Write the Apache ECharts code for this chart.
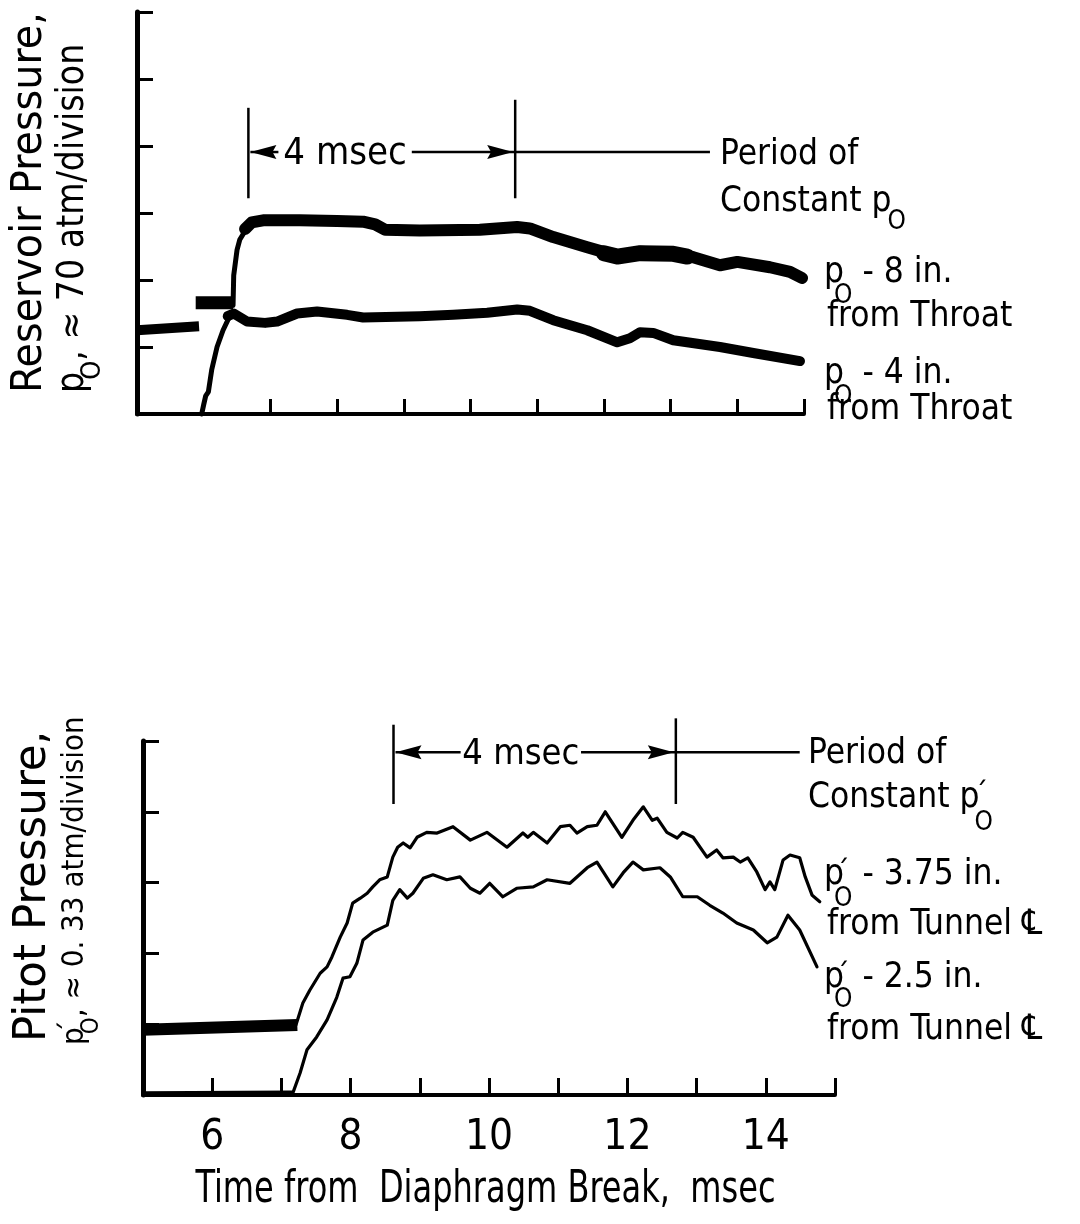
<!DOCTYPE html>
<html><head><meta charset="utf-8">
<script src="https://cdn.jsdelivr.net/npm/echarts@6/dist/echarts.min.js"></script>
<style>html,body{margin:0;padding:0;background:#fff}#c{width:1080px;height:1224px}</style>
</head><body><div id="c"></div>
<script>
const FONT = '"DejaVu Sans Condensed","DejaVu Sans",sans-serif';

// ---- axes ----
const timeMin = 5, timeMax = 15;
const topDivisions = 6, bottomDivisions = 5;
const topTickValues = [7, 8, 9, 10, 11, 12, 13, 14, 15];
const bottomTickLabels = [6, 8, 10, 12, 14];
const xTitle = 'Time from  Diaphragm Break,  msec';

// ---- top chart: reservoir pressure (divisions) vs time (msec) ----
const res8inPre1 = [[5.0, 1.25], [5.93, 1.31]];
const res8inPre2 = [[5.88, 1.66], [6.44, 1.66]];
const res8inRise = [[6.44, 1.62], [6.45, 2.07], [6.50, 2.45], [6.54, 2.60], [6.65, 2.78], [6.72, 2.86]];
const res8in = [[6.62, 2.76], [6.72, 2.86], [6.89, 2.89], [7.44, 2.89], [8.0, 2.88], [8.39, 2.87], [8.57, 2.83],
  [8.72, 2.75], [9.24, 2.74], [10.14, 2.75], [10.70, 2.79], [10.89, 2.77], [11.24, 2.64], [11.75, 2.49],
  [12.20, 2.36], [12.54, 2.42], [13.04, 2.40], [13.34, 2.34], [13.74, 2.22], [14.0, 2.27], [14.49, 2.19],
  [14.79, 2.12], [14.97, 2.03]];
const res8inWide = [[12.0, 2.40], [12.20, 2.35], [12.54, 2.40], [13.04, 2.39], [13.25, 2.35]];
const res4inRise = [[5.97, 0.0], [6.0, 0.14], [6.03, 0.27], [6.07, 0.33], [6.12, 0.66], [6.20, 1.0],
  [6.29, 1.25], [6.39, 1.46]];
const res4in = [[6.36, 1.46], [6.45, 1.50], [6.65, 1.38], [6.92, 1.36], [7.10, 1.38], [7.40, 1.50], [7.70, 1.53],
  [8.15, 1.48], [8.39, 1.44], [9.24, 1.46], [9.74, 1.48], [10.25, 1.51], [10.70, 1.56], [10.89, 1.54],
  [11.24, 1.40], [11.75, 1.25], [12.20, 1.07], [12.39, 1.13], [12.54, 1.22], [12.74, 1.21], [13.04, 1.10],
  [13.74, 1.0], [14.24, 0.91], [14.94, 0.79]];

// ---- bottom chart: pitot pressure (divisions) vs time (msec) ----
const pit375Pre = [[5.0, 0.92], [7.23, 0.99]];
const pit375 = [[7.21, 0.99], [7.31, 1.30], [7.41, 1.48], [7.56, 1.72], [7.66, 1.81], [7.73, 1.95], [7.85, 2.23],
  [7.95, 2.43], [8.03, 2.71], [8.14, 2.78], [8.24, 2.85], [8.32, 2.94], [8.42, 3.04], [8.53, 3.08], [8.61, 3.36],
  [8.68, 3.50], [8.76, 3.56], [8.86, 3.49], [8.96, 3.64], [9.10, 3.71], [9.25, 3.70], [9.48, 3.79], [9.73, 3.60],
  [9.97, 3.71], [10.26, 3.50], [10.49, 3.70], [10.56, 3.64], [10.64, 3.71], [10.84, 3.56], [11.03, 3.79],
  [11.17, 3.81], [11.27, 3.70], [11.42, 3.79], [11.56, 3.81], [11.68, 4.00], [11.92, 3.64], [12.08, 3.88],
  [12.23, 4.07], [12.36, 3.88], [12.43, 3.91], [12.57, 3.71], [12.72, 3.63], [12.80, 3.71], [12.95, 3.64],
  [13.15, 3.36], [13.29, 3.46], [13.38, 3.35], [13.53, 3.36], [13.63, 3.29], [13.74, 3.35], [13.87, 3.15],
  [13.99, 2.90], [14.06, 3.01], [14.13, 2.90], [14.25, 3.32], [14.35, 3.39], [14.49, 3.35], [14.57, 3.08],
  [14.67, 2.82], [14.78, 2.73]];
const pit25 = [[5.0, 0.03], [7.12, 0.04], [7.17, 0.04], [7.27, 0.31], [7.37, 0.64], [7.51, 0.82], [7.66, 1.06],
  [7.80, 1.38], [7.89, 1.65], [7.99, 1.67], [8.09, 1.86], [8.18, 2.19], [8.32, 2.30], [8.53, 2.40], [8.61, 2.75],
  [8.71, 2.90], [8.82, 2.78], [8.90, 2.85], [9.05, 3.06], [9.19, 3.11], [9.39, 3.04], [9.58, 3.08], [9.73, 2.92],
  [9.87, 2.85], [10.01, 2.99], [10.20, 2.80], [10.40, 2.92], [10.64, 2.94], [10.84, 3.04], [11.17, 2.99],
  [11.42, 3.21], [11.56, 3.29], [11.79, 2.94], [11.94, 3.14], [12.08, 3.29], [12.23, 3.18], [12.47, 3.21],
  [12.62, 3.08], [12.80, 2.80], [13.01, 2.80], [13.19, 2.68], [13.38, 2.57], [13.58, 2.43], [13.82, 2.33],
  [14.02, 2.15], [14.16, 2.23], [14.32, 2.54], [14.49, 2.33], [14.74, 1.81]];

// ---- "4 msec" period annotations (msec / divisions) ----
const topPeriod = { left: 6.67, right: 10.67, arrowY: 3.91, leftTop: 4.57, rightTop: 4.69, base: 3.22, textX: 8.12, textHalf: 1.0, lineEnd: 13.59, fontSize: 38 };
const botPeriod = { left: 8.62, right: 12.70, arrowY: 4.84, leftTop: 5.23, rightTop: 5.32, base: 4.11, textX: 10.46, textHalf: 0.87, lineEnd: 14.49, fontSize: 36 };

const chart = echarts.init(document.getElementById('c'), null, { renderer: 'canvas' });

function lineSeries(data, width, xi, cap) {
  return {
    type: 'line', data, xAxisIndex: xi, yAxisIndex: xi, showSymbol: false, symbol: 'none',
    clip: false, silent: true, animation: false, smooth: false,
    lineStyle: { color: '#000', width, join: 'round', cap: cap || 'round' }
  };
}
function xAxisCfg(gi, extra) {
  return Object.assign({
    gridIndex: gi, type: 'value', min: timeMin, max: timeMax, interval: 1,
    axisLine: { show: true, onZero: false, lineStyle: { color: '#000', width: 4 } },
    splitLine: { show: false }
  }, extra);
}
function yAxisCfg(gi, max, tickLen) {
  return {
    gridIndex: gi, type: 'value', min: 0, max, interval: 1,
    axisLine: { show: true, onZero: false, lineStyle: { color: '#000', width: 5 } },
    axisTick: { show: true, inside: true, length: tickLen, lineStyle: { color: '#000', width: 3 } },
    axisLabel: { show: false }, splitLine: { show: false }
  };
}

chart.setOption({
  backgroundColor: '#fff',
  animation: false,
  grid: [
    { left: 137, right: 276, top: 12, bottom: 810, outerBoundsMode: 'none', containLabel: false },
    { left: 143, right: 245, top: 741, bottom: 129, outerBoundsMode: 'none', containLabel: false }
  ],
  xAxis: [
    xAxisCfg(0, {
      axisTick: { show: true, inside: true, length: 15, customValues: topTickValues, lineStyle: { color: '#000', width: 3 } },
      axisLabel: { show: false }
    }),
    xAxisCfg(1, {
      axisTick: { show: true, inside: true, length: 17, lineStyle: { color: '#000', width: 3 } },
      axisLabel: {
        show: true, color: '#000', fontSize: 42, fontFamily: FONT, margin: 22,
        formatter: v => bottomTickLabels.includes(v) ? String(v) : ''
      }
    })
  ],
  yAxis: [yAxisCfg(0, topDivisions, 16), yAxisCfg(1, bottomDivisions, 16)],
  series: [
    lineSeries(res8inPre1, 10, 0, 'butt'),
    lineSeries(res8inPre2, 13, 0, 'butt'),
    lineSeries(res8inRise, 5, 0),
    lineSeries(res8in, 12, 0),
    lineSeries(res8inWide, 16, 0),
    lineSeries(res4inRise, 5, 0),
    lineSeries(res4in, 10, 0),
    lineSeries(pit375Pre, 12, 1, 'butt'),
    lineSeries(pit375, 3.2, 1),
    lineSeries(pit25, 3.2, 1)
  ]
});

// ---------- annotations & texts ----------
const mctx = document.createElement('canvas').getContext('2d');
function textW(t, size) { mctx.font = size + 'px ' + FONT; return mctx.measureText(t).width; }
// tokens: [text, size, dy, advance, dx]
function compound(x, y, tokens, rotation, scaleX) {
  const children = []; let cx = 0;
  tokens.forEach(tk => {
    const t = tk[0], size = tk[1], dy = tk[2] || 0, adv = tk[3] !== false, dx = tk[4] || 0;
    children.push({ type: 'text', x: cx + dx, y: dy, silent: true,
      style: { text: t, fontSize: size, fontFamily: FONT, fill: '#000', align: 'left', verticalAlign: 'middle' } });
    if (adv) cx += textW(t, size) + dx;
  });
  return { type: 'group', x, y, rotation: rotation || 0, scaleX: scaleX || 1, children, silent: true };
}
function seg(p1, p2, w) {
  return { type: 'line', silent: true, shape: { x1: p1[0], y1: p1[1], x2: p2[0], y2: p2[1] }, style: { stroke: '#000', lineWidth: w || 2.5 } };
}
function tri(tip, dir) {
  const L = 26, H = 7;
  return { type: 'polygon', silent: true, shape: { points: [[tip[0], tip[1]], [tip[0] + dir * L, tip[1] - H], [tip[0] + dir * L * 0.85, tip[1]], [tip[0] + dir * L, tip[1] + H]] }, style: { fill: '#000' } };
}
function periodGraphics(gi, a) {
  const px = v => chart.convertToPixel({ gridIndex: gi }, v);
  const L = px([a.left, a.arrowY]), R = px([a.right, a.arrowY]);
  const Lt = px([a.left, a.leftTop]), Lb = px([a.left, a.base]);
  const Rt = px([a.right, a.rightTop]), Rb = px([a.right, a.base]);
  const tl = px([a.textX - a.textHalf, a.arrowY]), tr = px([a.textX + a.textHalf, a.arrowY]);
  const tc = px([a.textX, a.arrowY]);
  const end = px([a.lineEnd, a.arrowY]);
  return [
    seg(Lt, Lb, 2.5), seg(Rt, Rb, 2.5),
    seg([L[0] + 2, L[1]], tl, 2.5), seg(tr, end, 2.5),
    tri([L[0] + 2, L[1]], 1), tri([R[0] - 2, R[1]], -1),
    { type: 'text', x: tc[0], y: tc[1] + 2, silent: true,
      style: { text: '4 msec', fontSize: a.fontSize, fontFamily: FONT, fill: '#000', align: 'center', verticalAlign: 'middle' } }
  ];
}
function xTitleGraphic() {
  const c = chart.convertToPixel({ gridIndex: 1 }, [(timeMin + timeMax) / 2 - 0.05, 0]);
  return { type: 'text', x: c[0], y: c[1] + 96, scaleX: 0.81, silent: true,
    style: { text: xTitle, fontSize: 44, fontFamily: FONT, fill: '#000', align: 'center', verticalAlign: 'middle' } };
}

const S = 35, s = 26, ROT = Math.PI / 2;
const graphics = [].concat(
  periodGraphics(0, topPeriod),
  periodGraphics(1, botPeriod),
  [
    xTitleGraphic(),
    // top right labels
    compound(720, 155, [['Period of', S]]),
    compound(720, 202, [['Constant p', S], ['O', s, 20, true, -4]]),
    compound(824, 273, [['p', S], ['O', s, 23, true, -10], [' - 8 in.', S]]),
    compound(827, 317, [['from Throat', S]]),
    compound(824, 374, [['p', S], ['O', s, 23, true, -10], [' - 4 in.', S]]),
    compound(827, 410, [['from Throat', S]]),
    // bottom right labels
    compound(808, 754, [['Period of', S]]),
    compound(808, 798, [['Constant p', S], ['\u00B4', 30, -2, false, -5], ['O', s, 25, true, -5]]),
    compound(824, 875, [['p', S], ['\u00B4', 30, -1, false, -8], ['O', s, 24, true, -10], [' - 3.75 in.', S]]),
    compound(827, 925, [['from Tunnel \u2104', S]]),
    compound(824, 978, [['p', S], ['\u00B4', 30, -1, false, -8], ['O', s, 22, true, -10], [' - 2.5 in.', S]]),
    compound(827, 1030, [['from Tunnel \u2104', S]]),
    // y-axis titles (rotated)
    compound(30, 393, [['Reservoir Pressure,', 42]], ROT, 1.05),
    compound(73, 393, [['p', 37], ['O', 27, 20, true, -8], [', \u2248 70 atm/division', 37]], ROT),
    compound(34, 1042, [['Pitot Pressure,', 44]], ROT, 1.1),
    compound(75, 1045, [['p', 31], ['\u00B4', 28, -2, false, -6], ['O', 24, 17, true, -7], [', \u2248 0. 33 atm/division', 31]], ROT)
  ]
);
chart.setOption({ graphic: graphics });
</script></body></html>
